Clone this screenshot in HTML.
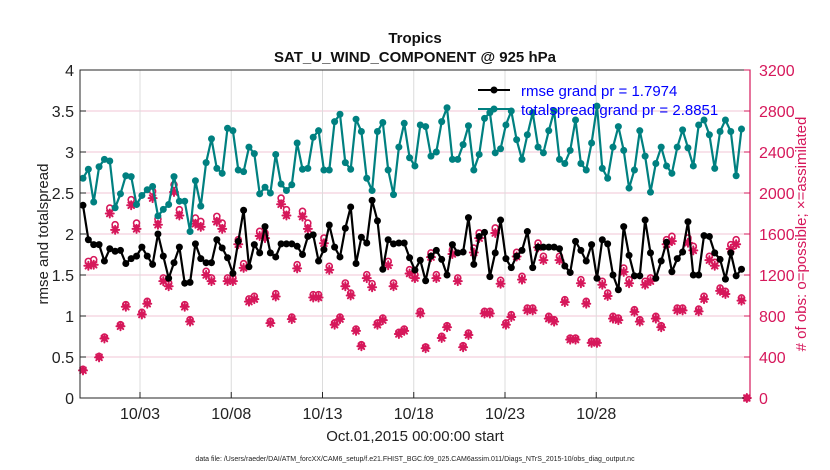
<!DOCTYPE html>
<html><head><meta charset="utf-8"><style>
body{margin:0;background:#fff;}
svg{display:block;font-family:"Liberation Sans",Arial,sans-serif;}
</style></head><body>
<svg id="chart" width="830" height="470" viewBox="0 0 830 470">
<rect width="830" height="470" fill="#fff"/>
<g id="grid"></g>
<g id="series"></g>
<rect x="80" y="70" width="670" height="328" fill="none" stroke="#262626" stroke-width="1"/>
<line x1="750" y1="70" x2="750" y2="398" stroke="#d6185b" stroke-width="1.2"/>
<g id="axes"></g>
<text x="415" y="43" text-anchor="middle" font-size="15" font-weight="bold" fill="#111">Tropics</text>
<text x="415" y="62" text-anchor="middle" font-size="15" font-weight="bold" fill="#111">SAT_U_WIND_COMPONENT @ 925 hPa</text>
<text x="415" y="441" text-anchor="middle" font-size="15" fill="#222">Oct.01,2015 00:00:00 start</text>
<text transform="translate(48,234) rotate(-90)" text-anchor="middle" font-size="15" fill="#222">rmse and totalspread</text>
<text transform="translate(806,234) rotate(-90)" text-anchor="middle" font-size="15" fill="#d6185b"># of obs: o=possible; ×=assimilated</text>
<text x="415" y="461" text-anchor="middle" font-size="7" fill="#222">data file: /Users/raeder/DAI/ATM_forcXX/CAM6_setup/f.e21.FHIST_BGC.f09_025.CAM6assim.011/Diags_NTrS_2015-10/obs_diag_output.nc</text>
<g>
  <line x1="478" y1="90" x2="510" y2="90" stroke="#000" stroke-width="2"/>
  <circle cx="494" cy="90" r="3.5" fill="#000"/>
  <text x="521" y="96" font-size="15" fill="#0000ff">rmse grand pr = 1.7974</text>
  <line x1="478" y1="109" x2="510" y2="109" stroke="#008080" stroke-width="2"/>
  <circle cx="494" cy="109" r="3.5" fill="#008080"/>
  <text x="521" y="115" font-size="15" fill="#0000ff">totalspread grand pr = 2.8851</text>
</g>
</svg>
<script>
const rmse = [2.35,1.93,1.87,1.87,1.67,1.82,1.79,1.80,1.64,1.70,1.73,1.84,1.73,1.63,2.0,1.73,1.46,1.65,1.84,1.40,1.41,1.88,1.70,1.65,1.65,1.93,1.83,1.71,1.52,1.91,2.29,1.60,1.87,1.77,2.09,1.77,1.72,1.88,1.88,1.88,1.85,1.75,
1.97,1.99,1.67,1.81,2.11,1.84,1.72,2.07,2.33,1.64,1.96,1.89,2.41,2.16,1.57,1.93,1.88,1.89,1.89,1.71,1.56,1.68,1.43,1.73,1.80,1.69,1.50,1.87,1.77,1.78,2.20,1.63,1.97,2.02,1.48,1.77,2.17,1.70,1.59,1.73,1.80,
2.03,1.59,1.84,1.84,1.84,1.84,1.82,1.61,1.53,1.91,1.80,1.67,1.87,1.46,1.93,1.88,1.50,1.32,2.09,1.74,1.49,1.49,2.17,1.77,1.46,1.67,1.90,1.54,1.70,1.78,2.15,1.50,1.50,1.98,1.97,1.77,1.69,1.45,1.77,1.49,1.57,null];
const spread = [2.68,2.79,2.39,2.82,2.91,2.89,2.32,2.49,2.71,2.70,2.36,2.47,2.54,2.58,2.22,2.30,2.36,2.70,2.40,2.40,2.03,2.65,2.34,2.87,3.16,2.80,2.74,3.29,3.26,2.78,2.76,3.06,2.98,2.49,2.57,2.50,2.97,2.61,2.53,2.60,3.11,2.79,
2.80,3.18,3.26,2.78,2.78,3.37,3.46,2.87,2.79,3.40,3.25,2.68,2.53,3.25,3.36,2.78,2.48,3.06,3.35,2.93,2.83,3.33,3.31,2.95,3.00,3.37,3.54,2.91,2.91,3.09,3.32,2.78,2.97,3.41,3.48,2.99,3.04,3.33,3.50,3.15,2.91,
3.21,3.48,3.06,2.99,3.26,3.50,2.91,2.86,3.02,3.39,2.86,2.78,3.11,3.56,2.80,2.68,3.06,3.31,3.02,2.56,2.78,3.26,2.95,2.51,2.86,3.06,2.83,2.74,3.06,3.27,3.05,2.83,3.33,3.39,3.21,2.80,3.25,3.39,3.25,2.71,3.28,null];
const nPossible = [280,1333,1350,406,595,1853,1691,715,911,1935,1707,836,943,2016,1746,1171,1122,2081,1837,911,764,1756,1723,1236,1171,1772,1707,1171,1171,1545,1310,966,992,1626,1610,748,1018,1951,1837,790,1301,1821,
1707,1008,1008,1561,1285,732,790,1122,1024,673,520,1203,1115,732,780,1333,1122,641,673,1252,1203,846,498,1415,1203,602,706,1447,1171,510,634,1463,1610,846,846,1659,1148,732,813,1421,1187,
878,878,1512,1382,797,764,1382,959,585,585,1154,943,553,553,1138,1024,797,780,1268,1154,862,764,1138,1171,797,706,1545,1577,878,878,1561,1480,868,992,1382,1324,1073,1041,1496,1545,976,0];
const nAssim = [270,1290,1300,396,580,1800,1640,700,890,1880,1650,815,920,1950,1690,1140,1090,2010,1780,890,745,1700,1670,1200,1140,1720,1650,1140,1140,1500,1270,940,965,1580,1560,730,990,1890,1780,770,1265,1770,
1650,980,980,1510,1250,715,770,1090,1000,655,505,1170,1080,715,760,1295,1090,625,655,1215,1170,825,485,1375,1170,585,690,1405,1140,495,615,1420,1560,825,825,1610,1115,715,790,1380,1155,
855,855,1470,1345,775,745,1345,935,570,570,1120,920,538,538,1105,995,775,760,1230,1120,840,745,1105,1140,775,690,1500,1530,855,855,1515,1440,845,965,1345,1290,1045,1015,1455,1500,950,0];
const tickLabels = ["10/03","10/08","10/13","10/18","10/23","10/28"];
const tickDays = [2,7,12,17,22,27];
const leftTicks = [0,0.5,1,1.5,2,2.5,3,3.5,4];
const rightTicks = [0,400,800,1200,1600,2000,2400,2800,3200];

const NS="http://www.w3.org/2000/svg";
const X0=80,X1=750,Y0=398,Y1=70;
const firstPx=83, stepPx=(741.5-83)/123;
function xIdx(i){return firstPx+i*stepPx;}
function xDay(d){return 103.5+d*18.25;}
function yL(v){return Y0-(v/4)*(Y0-Y1);}
function yR(v){return Y0-(v/3200)*(Y0-Y1);}
function mk(tag,attrs,parent){const e=document.createElementNS(NS,tag);for(const k in attrs)e.setAttribute(k,attrs[k]);parent.appendChild(e);return e;}
const grid=document.getElementById('grid'),axes=document.getElementById('axes'),ser=document.getElementById('series');
const PINK="#d6185b";
leftTicks.forEach((v,i)=>{
  const y=yL(v);
  if(v>0&&v<4){const g=mk('line',{x1:X0,x2:X1,y1:y,y2:y,stroke:'#f2c6d4','stroke-width':1},grid);
  
  }
  const t=mk('line',{x1:X0,x2:X0+6,y1:y,y2:y,stroke:'#262626'},axes);
  
  
  const l=mk('text',{x:X0-6,y:y+6,'text-anchor':'end','font-size':16,fill:'#222'},axes);
  l.textContent=String(v);
  
  
});
rightTicks.forEach(v=>{
  const y=yR(v);
  const t=mk('line',{x1:X1-6,x2:X1,y1:y,y2:y,stroke:PINK},axes);
  
  
  const l=mk('text',{x:X1+9,y:y+6,'font-size':16,fill:PINK},axes);
  l.textContent=String(v);
  
  
});
tickDays.forEach((d,i)=>{
  const x=xDay(d);
  const g=mk('line',{x1:x,x2:x,y1:Y1,y2:Y0,stroke:'#dcdcdc','stroke-width':1},grid);
  
  
  const t=mk('line',{x1:x,x2:x,y1:Y0-6,y2:Y0,stroke:'#262626'},axes);
  
  
  const l=mk('text',{x:x,y:Y0+21,'text-anchor':'middle','font-size':16,fill:'#222'},axes);
  l.textContent=tickLabels[i];
  
  
});
// obs markers
function star(cx,cy){
  const g=mk('g',{stroke:PINK,'stroke-width':2,'stroke-linecap':'round'},ser);
  
  
  const r=4;
  mk('line',{x1:cx-r,x2:cx+r,y1:cy,y2:cy},g);
  mk('line',{x1:cx,x2:cx,y1:cy-r,y2:cy+r},g);
  mk('line',{x1:cx-r*0.7,x2:cx+r*0.7,y1:cy-r*0.7,y2:cy+r*0.7},g);
  mk('line',{x1:cx-r*0.7,x2:cx+r*0.7,y1:cy+r*0.7,y2:cy-r*0.7},g);
}
nAssim.forEach((v,i)=>star(xIdx(i),yR(v)));
nPossible.forEach((v,i)=>{
  const c=mk('circle',{cx:xIdx(i),cy:yR(v),r:3,fill:'none',stroke:PINK,'stroke-width':1.6},ser);
  
  
});
function lineSeries(arr,color,name){
  let d='';arr.forEach((v,i)=>{if(v==null)return;d+=(d?'L':'M')+xIdx(i).toFixed(1)+','+yL(v).toFixed(1);});
  const p=mk('path',{d:d,fill:'none',stroke:color,'stroke-width':2.2,'stroke-linejoin':'round'},ser);
  
  
  arr.forEach((v,i)=>{if(v==null)return;
    const c=mk('circle',{cx:xIdx(i),cy:yL(v),r:3.5,fill:color},ser);
    
    
  });
}
lineSeries(spread,'#008080','totalspread');
lineSeries(rmse,'#000000','rmse');
</script>
</body></html>
